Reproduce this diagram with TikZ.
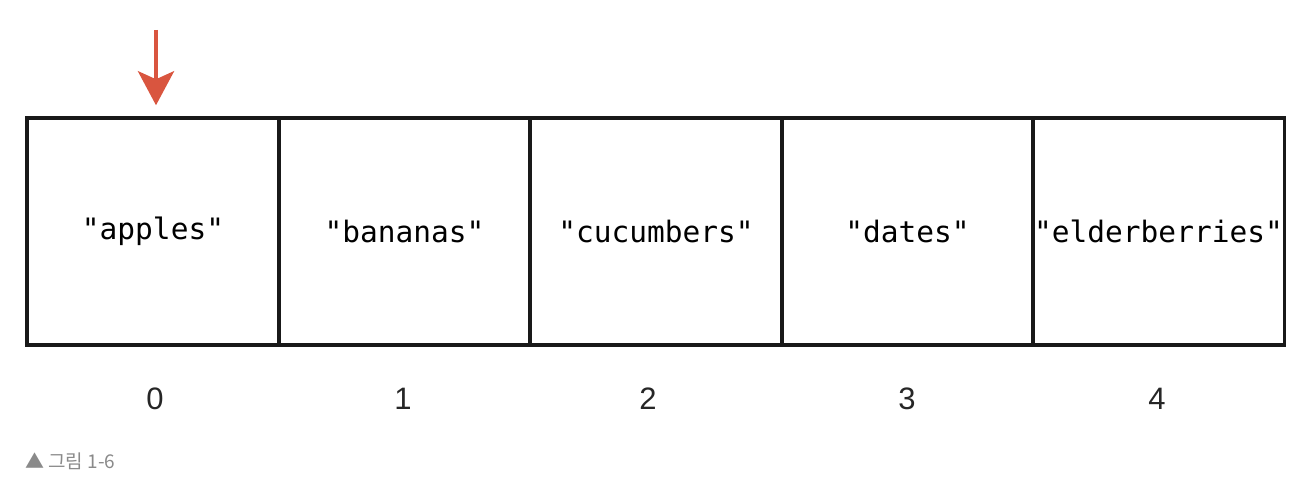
\documentclass[tikz,border=0pt]{standalone}
\usepackage{fontspec}
\newfontfamily\monof{DejaVu Sans Mono}
\newfontfamily\numf{Liberation Sans}
\newfontfamily\krf{Noto Sans CJK KR}
\usetikzlibrary{arrows.meta}
\definecolor{arrowred}{HTML}{D9553F}
\definecolor{capgray}{HTML}{8A8A8A}
\begin{document}
\begin{tikzpicture}[x=1pt,y=-1pt,
  cell/.style={draw=black!90,line width=3.5pt,inner sep=0pt,minimum height=227pt,font=\monof\fontsize{29.5}{32}\selectfont},
  idx/.style={font=\numf\fontsize{31}{34}\selectfont,text=black!85},
  captext/.style={font=\krf\fontsize{19}{22}\selectfont,text=capgray,anchor=west,inner sep=0pt}]
\useasboundingbox (0,0) rectangle (1310,500);
\node[cell,minimum width=252pt] (c0) at (153,231.5) {"apples"};
\node[cell,minimum width=251pt] (c1) at (404.5,231.5) {"bananas"};
\node[cell,minimum width=252pt] (c2) at (656,231.5) {"cucumbers"};
\node[cell,minimum width=251pt] (c3) at (907.5,231.5) {"dates"};
\node[cell,minimum width=252pt] (c4) at (1158.5,231.5) {"elderberries"};
\node[idx] (n0) at (155,399) {0};
\node[idx] (n1) at (403,399) {1};
\node[idx] (n2) at (648,399) {2};
\node[idx] (n3) at (907,399) {3};
\node[idx] (n4) at (1157,399) {4};
\coordinate (atop) at (156,30);
\draw[arrowred,line width=4.5pt,-{Stealth[width=36pt,length=34pt,inset=8pt]},shorten >=11pt] (atop) -- (atop |- c0.north);
\node[captext] (caption) at (25,461) {▲ 그림 1-6};
\end{tikzpicture}
\end{document}
